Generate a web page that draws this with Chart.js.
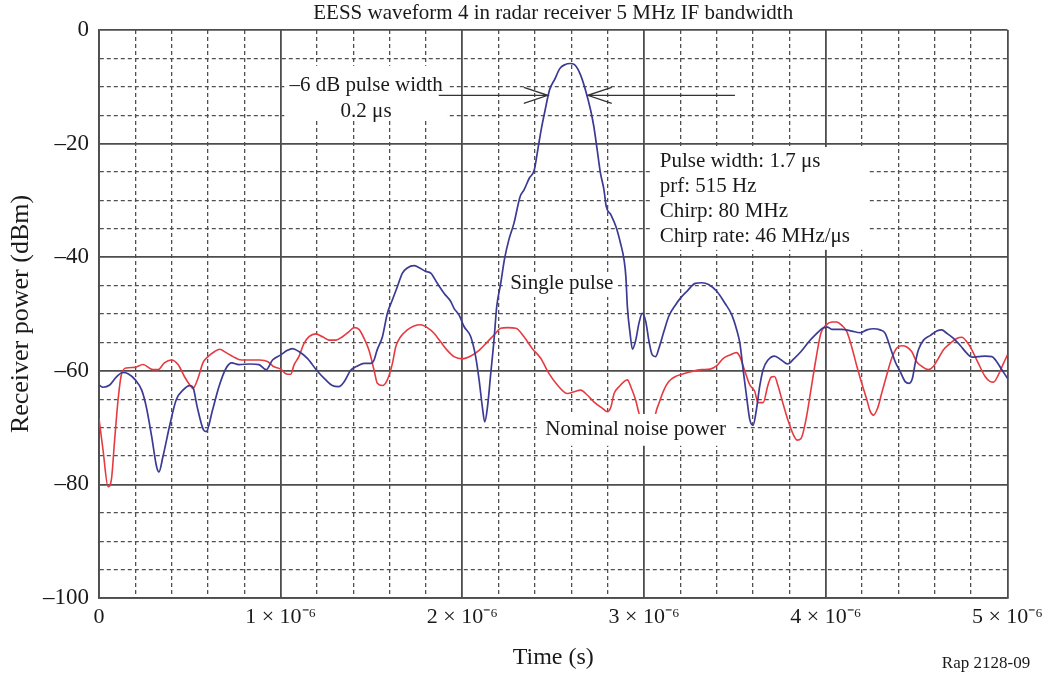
<!DOCTYPE html>
<html>
<head>
<meta charset="utf-8">
<script src="https://cdn.jsdelivr.net/npm/chart.js@4"></script>
<style>
  html, body { margin: 0; padding: 0; background: #fff; }
  #wrap { width: 1049px; height: 677px; position: relative; }
</style>
</head>
<body>
<div id="wrap"><canvas id="pulseChart"></canvas></div>
<script>
// time in microseconds, power in dBm
const pulseTime = [0, 0.022, 0.059, 0.095, 0.13, 0.16, 0.2, 0.235, 0.26, 0.29, 0.317, 0.33, 0.352, 0.39, 0.425, 0.462, 0.499, 0.517, 0.54, 0.575, 0.59, 0.625, 0.66, 0.7, 0.73, 0.77, 0.83, 0.88, 0.92, 0.955,
  1.0, 1.037, 1.064, 1.1, 1.147, 1.2, 1.248, 1.284, 1.32, 1.35, 1.385, 1.42, 1.459, 1.495, 1.514, 1.53, 1.56, 1.587, 1.615, 1.642, 1.67, 1.697, 1.734, 1.76, 1.798, 1.826, 1.862, 1.9, 1.936, 1.954, 1.982,
  2.009, 2.046, 2.073, 2.092, 2.11, 2.123, 2.138, 2.156, 2.174, 2.189, 2.211, 2.232, 2.256, 2.284, 2.318, 2.34, 2.368, 2.396, 2.415, 2.434, 2.456, 2.48, 2.508, 2.536, 2.564, 2.593, 2.617, 2.649, 2.677,
  2.705, 2.723, 2.742, 2.76, 2.779, 2.792, 2.817, 2.845, 2.87, 2.89, 2.9, 2.908, 2.923, 2.936, 2.954, 2.972, 2.99, 3.009, 3.027, 3.045, 3.064, 3.082, 3.109, 3.136, 3.173, 3.2, 3.236, 3.282, 3.318,
  3.355, 3.4, 3.445, 3.482, 3.51, 3.527, 3.545, 3.564, 3.582, 3.6, 3.618, 3.636, 3.655, 3.682, 3.718, 3.755, 3.79, 3.827, 3.864, 3.909, 3.945, 3.982, 4.009, 4.033, 4.088, 4.143, 4.189, 4.226, 4.262,
  4.299, 4.327, 4.354, 4.382, 4.409, 4.437, 4.459, 4.477, 4.492, 4.51, 4.538, 4.574, 4.611, 4.638, 4.666, 4.703, 4.739, 4.776, 4.804, 4.84, 4.877, 4.914, 4.941, 4.969, 5.0];
const pulsePower = [-62.5, -62.9, -62.5, -61.1, -60.3, -60.5, -61.6, -63.4, -66.3, -71.6, -76.9, -77.8, -75.1, -69.5, -65.1, -63.4, -62.6, -62.9, -66.3, -70.4, -70.7, -66.9, -62.8, -59.5, -58.6, -58.9, -58.8, -58.9, -59.8, -58.1,
  -57.2, -56.4, -56.1, -56.6, -57.8, -60.0, -61.6, -62.6, -62.8, -61.9, -59.9, -59.2, -58.7, -58.7, -58.1, -56.4, -54.0, -49.9, -47.5, -45.2, -42.8, -41.9, -41.5, -41.8, -42.5, -42.8, -44.6, -46.4, -47.8, -49.0, -50.2,
  -52.2, -54.0, -57.5, -61.6, -66.4, -69.0, -66.4, -60.5, -54.6, -48.7, -44.6, -40.3, -36.9, -34.0, -29.3, -28.1, -26.1, -24.6, -21.1, -17.5, -14.0, -10.5, -8.7, -6.8, -6.1, -5.9, -6.1, -7.8, -10.5,
  -14.0, -16.9, -21.1, -25.2, -28.1, -31.1, -32.5, -34.6, -37.5, -40.5, -43.5, -48.7, -53.4, -56.2, -54.6, -51.6, -49.9, -51.3, -54.8, -57.2, -57.5, -56.0, -53.1, -50.4, -48.4, -47.2, -46.0, -44.6, -44.5,
  -44.8, -46.0, -48.1, -50.1, -52.8, -55.1, -59.8, -64.5, -68.6, -69.6, -66.9, -62.8, -59.8, -58.1, -57.4, -58.1, -58.8, -57.8, -56.6, -54.8, -53.6, -52.5, -52.3, -52.7, -52.7, -53.0, -53.3, -52.8, -52.6,
  -52.8, -53.4, -55.8, -58.4, -60.1, -61.9, -62.2, -61.3, -58.7, -56.3, -54.6, -53.8, -53.0, -52.8, -53.4, -54.3, -55.5, -56.9, -57.6, -57.5, -57.4, -57.5, -58.4, -59.8, -61.3];

const noiseTime = [0, 0.022, 0.05, 0.068, 0.086, 0.105, 0.123, 0.15, 0.196, 0.242, 0.297, 0.325, 0.36, 0.398, 0.435, 0.47, 0.5, 0.517, 0.545, 0.572, 0.6, 0.637, 0.664, 0.7, 0.738, 0.783, 0.83, 0.884, 0.93, 0.958,
  1.0, 1.028, 1.055, 1.073, 1.1, 1.128, 1.156, 1.193, 1.23, 1.266, 1.303, 1.34, 1.376, 1.404, 1.431, 1.459, 1.486, 1.514, 1.532, 1.56, 1.587, 1.615, 1.633, 1.66, 1.697, 1.734, 1.77, 1.807, 1.844, 1.88,
  1.917, 1.954, 2.0, 2.046, 2.092, 2.138, 2.183, 2.211, 2.248, 2.294, 2.339, 2.385, 2.431, 2.477, 2.523, 2.578, 2.615, 2.651, 2.688, 2.725, 2.771, 2.798, 2.817, 2.835, 2.862, 2.89, 2.908, 2.927, 2.954,
  2.972, 3.0, 3.03, 3.055, 3.064, 3.082, 3.109, 3.136, 3.173, 3.209, 3.264, 3.318, 3.364, 3.4, 3.436, 3.473, 3.509, 3.527, 3.555, 3.582, 3.609, 3.627, 3.655, 3.682, 3.7, 3.718, 3.736, 3.764, 3.791,
  3.818, 3.842, 3.864, 3.891, 3.918, 3.945, 3.973, 4.0, 4.033, 4.06, 4.088, 4.116, 4.143, 4.171, 4.198, 4.226, 4.244, 4.262, 4.286, 4.308, 4.336, 4.363, 4.391, 4.418, 4.446, 4.473, 4.5, 4.528, 4.565,
  4.593, 4.62, 4.648, 4.684, 4.721, 4.749, 4.776, 4.804, 4.84, 4.877, 4.905, 4.923, 4.95, 4.978, 5.0];
const noisePower = [-68.4, -73.9, -80.4, -79.2, -72.2, -65.1, -60.7, -59.5, -59.4, -58.9, -59.8, -59.8, -58.6, -58.1, -58.9, -61.0, -62.5, -63.1, -61.3, -58.6, -57.5, -56.6, -56.2, -56.8, -57.5, -58.1, -58.1, -58.1, -58.4, -59.2,
  -59.7, -60.5, -60.6, -59.0, -57.5, -55.2, -54.0, -53.5, -54.0, -54.6, -54.6, -54.0, -53.1, -52.4, -52.7, -54.3, -56.4, -59.9, -62.2, -62.6, -61.6, -58.7, -55.8, -54.0, -52.8, -52.1, -51.9, -52.4, -53.4, -54.9,
  -56.4, -57.5, -57.9, -57.4, -56.4, -54.9, -53.4, -52.5, -52.4, -52.5, -54.0, -56.1, -57.8, -60.5, -62.5, -64.0, -63.7, -63.4, -64.3, -65.5, -66.6, -67.2, -66.4, -64.0, -62.8, -61.9, -61.6, -62.8, -65.2,
  -67.5, -70.5, -71.5, -69.5, -67.5, -65.7, -63.4, -61.9, -61.0, -60.6, -60.1, -59.8, -59.7, -59.1, -57.8, -57.2, -56.8, -57.5, -60.1, -62.5, -63.6, -65.6, -65.6, -62.5, -61.1, -61.0, -62.5, -65.7, -68.6,
  -71.0, -72.2, -71.9, -68.6, -63.4, -58.1, -53.4, -52.0, -51.4, -51.4, -52.0, -53.1, -55.8, -59.2, -62.2, -65.1, -67.1, -67.8, -66.5, -63.9, -60.7, -57.8, -56.0, -55.6, -55.8, -56.6, -58.4, -59.2, -59.8,
  -59.2, -57.8, -56.3, -55.2, -54.3, -54.1, -54.9, -56.3, -58.7, -61.0, -61.9, -62.0, -60.7, -58.7, -57.2];

const timeTickLabels = ['0', '1 × 10⁻⁶', '2 × 10⁻⁶', '3 × 10⁻⁶', '4 × 10⁻⁶', '5 × 10⁻⁶'];
const powerTickLabels = ['0', '–20', '–40', '–60', '–80', '–100'];

const serif = '"Liberation Serif", "Times New Roman", serif';
const ink = '#1a1a1a';

// solid lines every 1 us / 20 dB, dashed in between
const isMajorTime = v => Math.abs(v - Math.round(v)) < 1e-6;
const isMajorPower = v => Math.abs(v / 20 - Math.round(v / 20)) < 1e-6;

function gridDash(ctx, major) {
  if (!ctx.tick) return [];
  return major(ctx.tick.value) ? [] : [4, 3];
}

// text boxes and arrows, placed in data units
const notes = {
  id: 'notes',
  afterDraw(chart) {
    const { ctx, scales: { x, y } } = chart;
    const px = t => x.getPixelForValue(t);
    const py = d => y.getPixelForValue(d);

    function box(t0, t1, d0, d1) {
      ctx.fillStyle = '#fff';
      ctx.fillRect(px(t0), py(d0), px(t1) - px(t0), py(d1) - py(d0));
    }
    function text(str, t, d, align, size) {
      ctx.font = (size || 21) + 'px ' + serif;
      ctx.fillStyle = ink;
      ctx.textAlign = align || 'center';
      ctx.textBaseline = 'middle';
      ctx.fillText(str, px(t), py(d));
    }

    ctx.save();

    // -6 dB width label
    box(1.02, 1.915, -6.3, -15.9);
    text('–6 dB pulse width', 1.47, -9.7);
    text('0.2 μs', 1.47, -14.4);

    // arrows pointing at the -6 dB crossings
    const ay = py(-11.5);
    ctx.strokeStyle = '#333';
    ctx.lineWidth = 1.3;
    ctx.beginPath();
    ctx.moveTo(px(1.87), ay); ctx.lineTo(px(2.47), ay);
    ctx.moveTo(px(2.47) - 24, ay - 8); ctx.lineTo(px(2.47), ay); ctx.lineTo(px(2.47) - 24, ay + 8);
    ctx.moveTo(px(3.5), ay); ctx.lineTo(px(2.69), ay);
    ctx.moveTo(px(2.69) + 24, ay - 8); ctx.lineTo(px(2.69), ay); ctx.lineTo(px(2.69) + 24, ay + 8);
    ctx.stroke();

    // waveform parameters
    box(3.04, 4.23, -20.6, -38.7);
    text('Pulse width: 1.7 μs', 3.086, -23.2, 'left');
    text('prf: 515 Hz', 3.086, -27.6, 'left');
    text('Chirp: 80 MHz', 3.086, -32.0, 'left');
    text('Chirp rate: 46 MHz/μs', 3.086, -36.4, 'left');

    box(2.24, 2.855, -42.6, -47.0);
    text('Single pulse', 2.547, -44.7);

    box(2.41, 3.5, -67.6, -73.2);
    text('Nominal noise power', 2.954, -70.4);

    // chart and axis titles
    const area = chart.chartArea;
    ctx.font = '21px ' + serif;
    ctx.fillStyle = ink;
    ctx.textAlign = 'center';
    ctx.textBaseline = 'middle';
    ctx.fillText('EESS waveform 4 in radar receiver 5 MHz IF bandwidth', (area.left + area.right) / 2, 13);

    ctx.font = '24px ' + serif;
    ctx.fillText('Time (s)', (area.left + area.right) / 2, 658);

    ctx.save();
    ctx.font = '26px ' + serif;
    ctx.translate(21, (area.top + area.bottom) / 2);
    ctx.rotate(-Math.PI / 2);
    ctx.fillText('Receiver power (dBm)', 0, 0);
    ctx.restore();

    ctx.font = '17px ' + serif;
    ctx.fillText('Rap 2128-09', 986, 664);

    ctx.restore();
  }
};

const ctx = document.getElementById('pulseChart').getContext('2d');
new Chart(ctx, {
  type: 'line',
  data: {
    datasets: [
      {
        label: 'Single pulse',
        data: pulseTime.map((t, i) => ({ x: t, y: pulsePower[i] })),
        borderColor: '#3b3a94',
        borderWidth: 1.7,
        pointRadius: 0,
        cubicInterpolationMode: 'monotone'
      },
      {
        label: 'Nominal noise power',
        data: noiseTime.map((t, i) => ({ x: t, y: noisePower[i] })),
        borderColor: '#e63a40',
        borderWidth: 1.6,
        pointRadius: 0,
        cubicInterpolationMode: 'monotone'
      }
    ]
  },
  options: {
    animation: false,
    responsive: true,
    maintainAspectRatio: false,
    layout: { padding: { top: 30, right: 41, left: 0, bottom: 0 } },
    plugins: {
      legend: { display: false },
      tooltip: { enabled: false }
    },
    scales: {
      x: {
        type: 'linear',
        min: 0,
        max: 5,
        afterFit: s => { s.height = 79; },
        ticks: {
          stepSize: 0.2,
          autoSkip: false,
          maxRotation: 0,
          padding: 6,
          color: ink,
          font: { family: serif, size: 22 },
          callback: v => isMajorTime(v) ? timeTickLabels[Math.round(v)] : ''
        },
        grid: {
          drawTicks: false,
          color: c => c.tick && isMajorTime(c.tick.value) ? '#4d4d4d' : '#505050',
          lineWidth: c => c.tick && isMajorTime(c.tick.value) ? 1.8 : 1.3
        },
        border: { color: '#4d4d4d', width: 1.8, dash: c => gridDash(c, isMajorTime) }
      },
      y: {
        min: -100,
        max: 0,
        afterFit: s => { s.width = 99; },
        ticks: {
          stepSize: 5,
          autoSkip: false,
          padding: 10,
          color: ink,
          font: { family: serif, size: 23 },
          callback: v => isMajorPower(v) ? powerTickLabels[Math.round(-v / 20)] : ''
        },
        grid: {
          drawTicks: false,
          color: c => c.tick && isMajorPower(c.tick.value) ? '#4d4d4d' : '#505050',
          lineWidth: c => c.tick && isMajorPower(c.tick.value) ? 1.8 : 1.3
        },
        border: { color: '#4d4d4d', width: 1.8, dash: c => gridDash(c, isMajorPower) }
      }
    }
  },
  plugins: [notes]
});
</script>
</body>
</html>
